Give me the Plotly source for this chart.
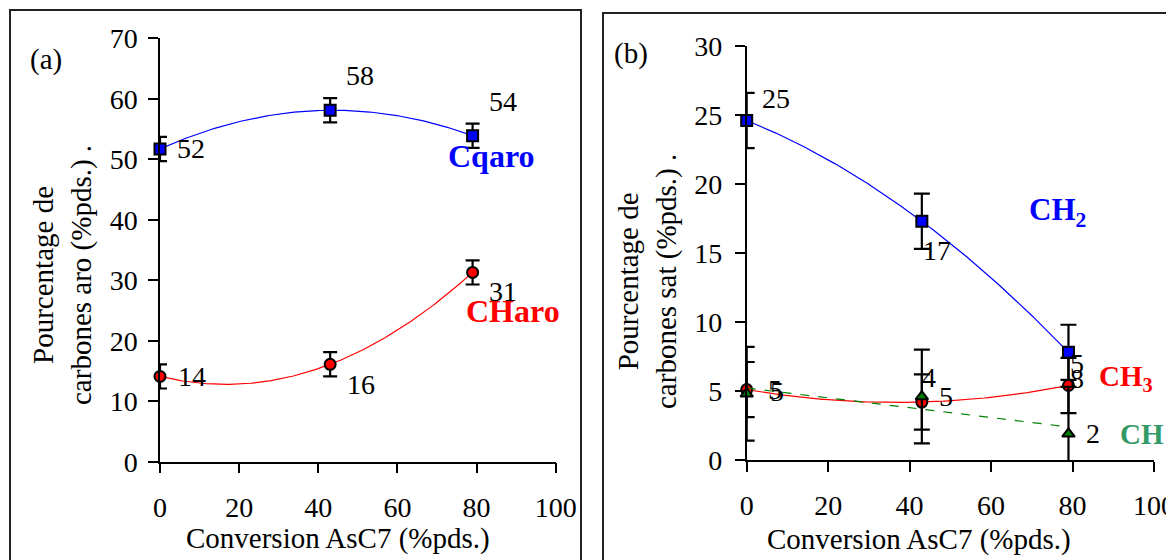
import numpy as np
import plotly.graph_objects as go

# the page body adds an 8px margin, so the figure is drawn 8px smaller
OFF = 8
W, H = 1174 - OFF, 560 - OFF

# ---------------- data ----------------
conversion = [0, 43, 79]

# panel (a)
cqaro = [51.7, 58.1, 53.9]
charo = [14.1, 16.1, 31.3]
err_cqaro = [2, 2, 2]
err_charo = [2, 2, 2]

# panel (b)
ch2 = [24.6, 17.3, 7.8]
ch3 = [5.1, 4.2, 5.4]
ch = [4.8, 4.6, 1.9]
err_ch2 = [2, 2, 2]
err_ch3 = [2, 2, 2]
err_ch = [3.4, 3.4, 3.4]

x_ticks = [0, 20, 40, 60, 80, 100]
ya_ticks = [0, 10, 20, 30, 40, 50, 60, 70]
yb_ticks = [0, 5, 10, 15, 20, 25, 30]

# label pixel offsets (dx, dy) for value labels
off_cqaro = [(31, 0), (30, -35), (30, -34)]
off_charo = [(32, 0), (31, 20), (30, 19)]
off_ch2 = [(29, -22), (15, 29), (9, 26)]
off_ch3 = [(28, 0), (7, -25), (9, -22)]
off_ch = [(30, -2), (24, 0), (25, 0)]

FONT = "Liberation Serif, Times New Roman, serif"
BLUE = "#0000FF"
RED = "#FF0000"
GREEN = "#008000"
GREEN_TXT = "#339966"


def trend(x, y, deg):
    c = np.polyfit(x, y, deg)
    xs = np.linspace(min(x), max(x), 150)
    return xs, np.polyval(c, xs)


def px(v):
    return (v - OFF) / W


def py(v):
    return 1 - (v - OFF) / H


fig = go.Figure()


def add_series(xa, ya, y, err, color, symbol, line_dash, deg, errw):
    xs, ys = trend(conversion, y, deg)
    fig.add_trace(go.Scatter(x=xs, y=ys, mode="lines", xaxis=xa, yaxis=ya,
                             line=dict(color=color, width=1.2, dash=line_dash),
                             hoverinfo="skip", showlegend=False, cliponaxis=False))
    fig.add_trace(go.Scatter(x=conversion, y=y, mode="markers", xaxis=xa, yaxis=ya,
                             marker=dict(symbol=symbol, size=11, color=color,
                                         line=dict(color="black", width=2)),
                             error_y=dict(type="data", array=err, visible=True,
                                          color="black", thickness=2.2, width=errw),
                             showlegend=False, cliponaxis=False))


add_series("x", "y", cqaro, err_cqaro, BLUE, "square", "solid", 2, 7)
add_series("x", "y", charo, err_charo, RED, "circle", "solid", 2, 7)
add_series("x2", "y2", ch2, err_ch2, BLUE, "square", "solid", 2, 8)
add_series("x2", "y2", ch3, err_ch3, RED, "circle", "solid", 2, 8)
add_series("x2", "y2", ch, err_ch, GREEN, "triangle-up", "dash", 1, 8)

annotations = []


def value_labels(xa, ya, y, offs):
    for xv, yv, (dx, dy) in zip(conversion, y, offs):
        annotations.append(dict(x=xv, y=yv, xref=xa, yref=ya, text=str(int(round(yv))),
                                showarrow=False, xshift=dx, yshift=-dy,
                                font=dict(family=FONT, size=28, color="black")))


value_labels("x", "y", cqaro, off_cqaro)
value_labels("x", "y", charo, off_charo)
value_labels("x2", "y2", ch2, off_ch2)
value_labels("x2", "y2", ch3, off_ch3)
value_labels("x2", "y2", ch, off_ch)


def paper_text(text, x, y, size=29, color="black", angle=0, xanchor="center"):
    annotations.append(dict(x=px(x), y=py(y), xref="paper", yref="paper", text=text,
                            showarrow=False, textangle=angle, xanchor=xanchor,
                            yanchor="middle", borderpad=0,
                            font=dict(family=FONT, size=size, color=color)))


paper_text("<b>Cqaro</b>", 491, 156, size=32, color=BLUE)
paper_text("<b>CHaro</b>", 513, 311, size=32, color=RED)
paper_text("<b>CH<sub>2</sub></b>", 1057, 212, size=31, color=BLUE)
paper_text("<b>CH<sub>3</sub></b>", 1126, 378, size=29, color=RED)
paper_text("<b>CH</b>", 1119, 434, size=29, color=GREEN_TXT, xanchor="left")

paper_text("(a)", 46, 60)
paper_text("(b)", 631, 53)

paper_text("Conversion AsC7 (%pds.)", 338, 538)
paper_text("Conversion AsC7 (%pds.)", 919, 539)

paper_text("Pourcentage de<br>carbones aro (%pds.) .", 62, 275, angle=-90)
paper_text("Pourcentage de<br>carbones sat (%pds.) .", 647, 281, angle=-90)

axis_common = dict(showgrid=False, zeroline=False, showline=True, linecolor="black",
                   linewidth=1.5, ticks="outside", tickcolor="black", tickwidth=1.5,
                   ticklen=10, automargin=False, ticklabeloverflow="allow",
                   tickfont=dict(family=FONT, size=28, color="black"))

fig.update_layout(
    template="none",
    width=W, height=H,
    margin=dict(l=0, r=0, t=0, b=0, pad=0, autoexpand=False),
    font=dict(family=FONT, size=28, color="black"),
    paper_bgcolor="white", plot_bgcolor="white",
    showlegend=False,
    xaxis=dict(domain=[px(160), px(555.7)], range=[0, 100], anchor="y",
               tickvals=x_ticks, ticklabelstandoff=10, **axis_common),
    yaxis=dict(domain=[py(461.7), py(38.3)], range=[0, 70], anchor="x",
               tickvals=ya_ticks, ticklabelstandoff=5, **axis_common),
    xaxis2=dict(domain=[px(746.7), px(1154)], range=[0, 100], anchor="y2",
                tickvals=x_ticks, ticklabelstandoff=10, **axis_common),
    yaxis2=dict(domain=[py(460), py(46)], range=[0, 30], anchor="x2",
                tickvals=yb_ticks, ticklabelstandoff=7, **axis_common),
    annotations=annotations,
    shapes=[
        dict(type="rect", xref="paper", yref="paper", x0=px(10), x1=px(581),
             y0=py(575), y1=py(10), line=dict(color="#222222", width=2)),
        dict(type="rect", xref="paper", yref="paper", x0=px(603), x1=px(1190),
             y0=py(575), y1=py(13), line=dict(color="#222222", width=2)),
    ],
)

fig.write_html("out.html")
